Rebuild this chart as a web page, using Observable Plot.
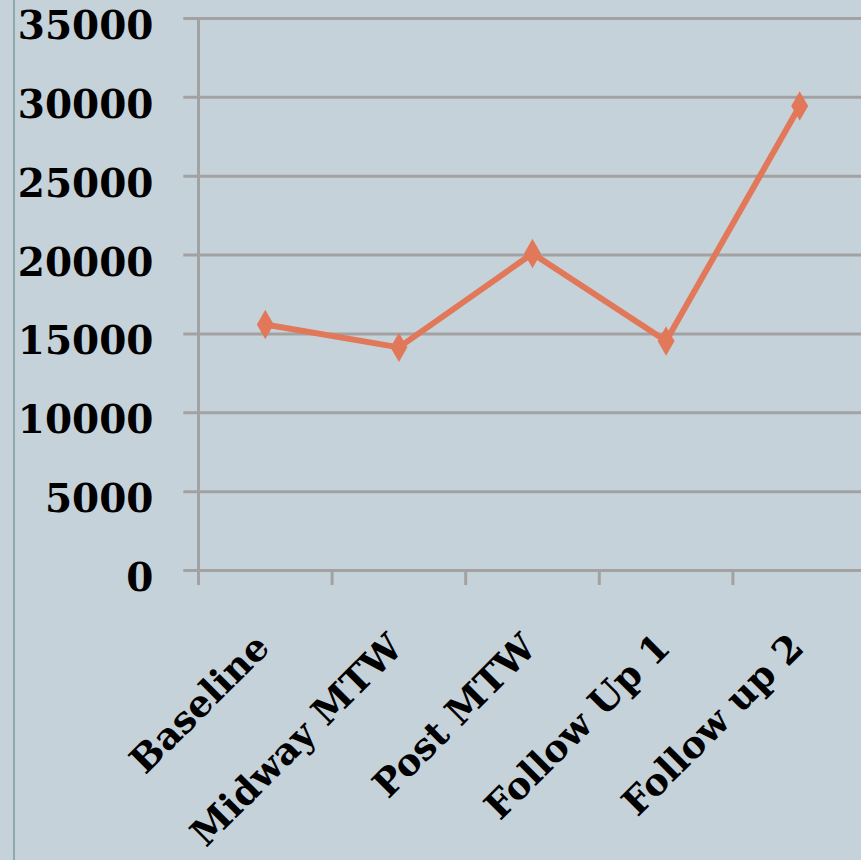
<!DOCTYPE html>
<html>
<head>
<meta charset="utf-8">
<script src="https://cdn.jsdelivr.net/npm/d3@7"></script>
<script src="https://cdn.jsdelivr.net/npm/@observablehq/plot@0.6"></script>
<style>
  html, body { margin: 0; padding: 0; background: #c6d2d9; }
  #wrap { position: relative; width: 861px; height: 860px; overflow: hidden; background: #c6d2d9; }
  #wrap::before { content: ""; position: absolute; left: 13px; top: 0; bottom: 0; width: 2px; background: #8fa9a9; }
  svg { overflow: visible; }
</style>
</head>
<body>
<div id="wrap"></div>
<script>
const categories = ["Baseline", "Midway MTW", "Post MTW", "Follow Up 1", "Follow up 2"];
const values = [15600, 14150, 20100, 14550, 29450];
const yTicks = [0, 5000, 10000, 15000, 20000, 25000, 30000, 35000];

const data = categories.map((c, i) => ({cat: c, pos: i + 0.5, value: values[i]}));
const boundaries = d3.range(0, categories.length + 1);

const font = "'DejaVu Serif', Georgia, serif";
const grid = "#a2a2a2";
const lineColor = "#e2785a";

const chart = Plot.plot({
  width: 861,
  height: 860,
  marginLeft: 198,
  marginRight: -5,
  marginTop: 18,
  marginBottom: 290,
  style: {background: "transparent", fontFamily: font, color: "#000"},
  x: {type: "linear", domain: [0, categories.length], axis: null},
  y: {type: "linear", domain: [0, 35000], axis: null},
  marks: [
    Plot.ruleY(yTicks, {y: d => d, x1: -0.11, x2: categories.length, stroke: grid, strokeWidth: 3}),
    Plot.ruleX([0], {x: d => d, y1: 0, y2: 35000, stroke: grid, strokeWidth: 3}),
    Plot.ruleX(boundaries, {x: d => d, y1: 0, y2: -950, stroke: grid, strokeWidth: 3}),
    Plot.text(yTicks, {
      x: 0, y: d => d, text: d => String(d), dx: -45, dy: 8, textAnchor: "end",
      fontSize: 39, fontWeight: "bold", fill: "#000"
    }),
    Plot.text(data, {
      x: "pos", y: 0, text: "cat", rotate: -45, textAnchor: "end", lineAnchor: "bottom",
      dx: 6, dy: 79, fontSize: 37, fontWeight: "bold", fill: "#000"
    }),
    Plot.line(data, {x: "pos", y: "value", stroke: lineColor, strokeWidth: 6}),
    Plot.dot(data, {x: "pos", y: "value", symbol: "diamond", r: 8, fill: lineColor, stroke: lineColor})
  ]
});
document.getElementById("wrap").appendChild(chart);
</script>
</body>
</html>
